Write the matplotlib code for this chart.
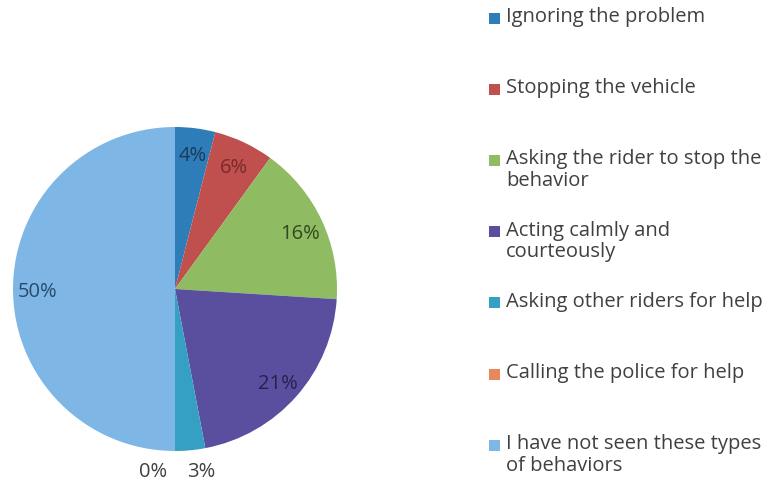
import numpy as np
import matplotlib
matplotlib.use("Agg")
import matplotlib.pyplot as plt
from matplotlib.patches import Rectangle

# data
labels = ["Ignoring the problem",
          "Stopping the vehicle",
          "Asking the rider to stop the\nbehavior",
          "Acting calmly and\ncourteously",
          "Asking other riders for help",
          "Calling the police for help",
          "I have not seen these types\nof behaviors"]
values = [4, 6, 16, 21, 3, 0, 50]
colors = ["#2E7DB8", "#C0504D", "#8FBC63", "#5A4E9E", "#35A0C3", "#E8875A", "#7EB7E6"]
pct_colors = ["#1C3A5A", "#7A2A2A", "#2F4A22", "#262250", "#404040", "#404040", "#2A4A6C"]

plt.rcParams['font.family'] = ['Open Sans', 'DejaVu Sans']

W, H = 775, 489
fig = plt.figure(figsize=(W / 100, H / 100), dpi=100)
fig.patch.set_facecolor("white")

# pie axes: centre (175, 290) px, radius 162 px
cx, cy, r = 175, 290, 162
ax = fig.add_axes([(cx - r) / W, (H - cy - r) / H, 2 * r / W, 2 * r / H])

wedges, texts, autotexts = ax.pie(values, colors=colors, startangle=90, counterclock=False,
                                  autopct="%d%%", pctdistance=0.85,
                                  wedgeprops=dict(linewidth=0),
                                  textprops=dict(fontsize=14.5))
ax.set_xlim(-1, 1)
ax.set_ylim(-1, 1)
ax.set_aspect("equal")

# small slices get their labels just outside the rim
for i, (w, t) in enumerate(zip(wedges, autotexts)):
    t.set_color(pct_colors[i])
    t.set_va("center_baseline")
    if values[i] <= 3:
        ang = np.deg2rad((w.theta1 + w.theta2) / 2)
        x, y = 1.11 * np.cos(ang), 1.11 * np.sin(ang)
        if values[i] == 0:
            t.set_position((x - 0.05, y))
            t.set_ha("right")
        else:
            t.set_position((x + 0.06, y))
            t.set_ha("center")

# legend drawn by hand, square aligned to first line
lx_box, lx_txt = 489 / W, 506 / W
y0, dy = 19, 71.2
for i, lab in enumerate(labels):
    yc = y0 + i * dy
    fig.patches.append(Rectangle((lx_box, 1 - (yc + 5.5) / H), 11 / W, 11 / H,
                                 transform=fig.transFigure, facecolor=colors[i],
                                 edgecolor="none"))
    fig.text(lx_txt, 1 - (yc - 12) / H, lab, fontsize=14.5, color="#404040",
             ha="left", va="top", linespacing=1.1)

fig.savefig("out.png", dpi=100, facecolor="white")
